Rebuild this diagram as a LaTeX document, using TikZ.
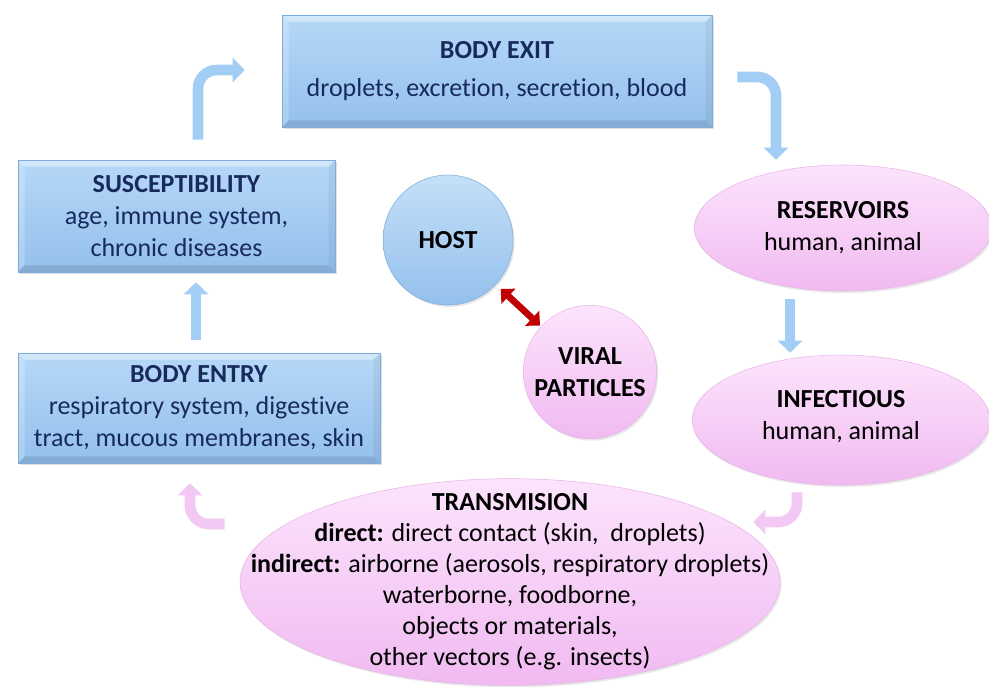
\documentclass[tikz,border=0pt]{standalone}
\usepackage{fontspec}
\setmainfont{Carlito}[Ligatures=NoCommon]
\usetikzlibrary{shapes.geometric,arrows.meta,calc,shadows}
\definecolor{boxtop}{RGB}{182,216,247}
\definecolor{boxbot}{RGB}{148,192,236}
\definecolor{boxedge}{RGB}{125,172,222}
\definecolor{navy}{RGB}{24,42,92}
\definecolor{pinktop}{RGB}{252,228,252}
\definecolor{pinkbot}{RGB}{241,186,241}
\definecolor{pinkedge}{RGB}{232,178,232}
\definecolor{arrblue}{RGB}{162,206,245}
\definecolor{arrpink}{RGB}{244,200,244}
\definecolor{darkred}{RGB}{192,0,0}
\begin{document}
\begin{tikzpicture}[x=0.75pt,y=-0.75pt,
  txt/.style={font=\fontsize{19.5}{24}\selectfont, align=center},
  bevelbox/.style={txt, rectangle, inner sep=0pt, text=navy,
    top color=boxtop, bottom color=boxbot, draw=boxedge, line width=0.4pt,
    drop shadow={opacity=0.25, shadow xshift=1.5pt, shadow yshift=-1.8pt},
    path picture={
      \path (path picture bounding box.north west) coordinate (nw)
            (path picture bounding box.south east) coordinate (se);
      \fill[white,opacity=0.40] (nw) -- (nw -| se) -- ($(nw -| se)+(-5pt,-5pt)$) -- ($(nw)+(5pt,-5pt)$) -- cycle;
      \fill[white,opacity=0.22] (nw) -- (nw |- se) -- ($(nw |- se)+(5pt,5pt)$) -- ($(nw)+(5pt,-5pt)$) -- cycle;
      \fill[black,opacity=0.10] (se) -- (nw |- se) -- ($(nw |- se)+(5pt,5pt)$) -- ($(se)+(-5pt,5pt)$) -- cycle;
      \fill[black,opacity=0.05] (se) -- (nw -| se) -- ($(nw -| se)+(-5pt,-5pt)$) -- ($(se)+(-5pt,5pt)$) -- cycle;
    }},
  pinkell/.style={txt, ellipse, inner sep=0pt, text=black,
    top color=pinktop, bottom color=pinkbot, draw=pinkedge, line width=0.4pt,
    drop shadow={opacity=0.18, shadow xshift=1.2pt, shadow yshift=-1.5pt}},
  barrow/.style={line width=8pt, color=arrblue, rounded corners=14pt,
    -{Triangle[length=9pt,width=18pt]}},
  parrow/.style={line width=8pt, color=arrpink, rounded corners=14pt,
    -{Triangle[length=9pt,width=18pt]}}]
\useasboundingbox (0,0) rectangle (989,686);

% boxes
\node[bevelbox, minimum width=322.5pt, minimum height=84pt] (exit) at (497,71)
  {\textbf{BODY EXIT}\\[4pt]droplets, excretion, secretion, blood};
\node[bevelbox, minimum width=238pt, minimum height=84pt] (sus) at (176.5,216)
  {\textbf{SUSCEPTIBILITY}\\age, immune system,\\chronic diseases};
\node[bevelbox, minimum width=271.5pt, minimum height=82.5pt] (entry) at (199,408)
  {\textbf{BODY ENTRY}\\respiratory system, digestive\\tract, mucous membranes, skin};

% circles
\node[txt, circle, inner sep=0pt, minimum size=97.5pt, text=black,
  top color=boxtop!80!white, bottom color=boxbot, draw=boxedge, line width=0.4pt,
  drop shadow={opacity=0.2, shadow xshift=1.2pt, shadow yshift=-1.5pt}]
  (host) at (448,240) {\textbf{HOST}};
\node[pinkell, circle, minimum size=100pt] (viral) at (590,372) {};
\node[txt] (viraltext) at (viral) {\textbf{VIRAL}\\\textbf{PARTICLES}};

% ellipses
\node[pinkell, minimum width=223pt, minimum height=94.5pt] (res) at (843,228) {};
\node[txt] (restext) at (res) {\textbf{RESERVOIRS}\\human, animal};
\node[pinkell, minimum width=223pt, minimum height=97.5pt] (inf) at (841,420) {};
\node[txt] (inftext) at ($(inf)+(0,-3)$) {\textbf{INFECTIOUS}\\human, animal};
\node[pinkell, minimum width=405pt, minimum height=155pt] (trans) at (510,582) {};
\node[txt, font=\fontsize{19.5}{23.3}\selectfont] (transtext) at (trans)
  {\textbf{TRANSMISION}\\
   \textbf{direct:} direct contact (skin,\ \ droplets)\\
   \textbf{indirect:} airborne (aerosols, respiratory droplets)\\
   waterborne, foodborne,\\
   objects or materials,\\
   other vectors (e.g. insects)};

% connectors
\draw[barrow] ($(sus.north)+(21.5,-20)$) |- ($(exit.west)+(-37,-1)$);
\draw[barrow] ($(exit.east)+(25,6)$) -| ($(res.north)+(-67,-5)$);
\draw[barrow, rounded corners=0pt] ($(res.south)+(-53,8)$) -- ($(inf.north)+(-51,-2)$);
\draw[parrow] ($(inf.south)+(-44,7)$) |- ($(trans.east)+(-27,-60)$);
\draw[parrow] ($(trans.west)+(-15,-58)$) -| ($(entry.south)+(-9,20)$);
\draw[barrow, rounded corners=0pt] ($(entry.north)+(-3,-13)$) -- ($(sus.south)+(19.5,10)$);
\draw[darkred, line width=5pt, shorten <=5pt, shorten >=1pt,
  {Triangle[length=8pt,width=15pt]}-{Triangle[length=8pt,width=15pt]}] (host) -- (viral);
\end{tikzpicture}
\end{document}
